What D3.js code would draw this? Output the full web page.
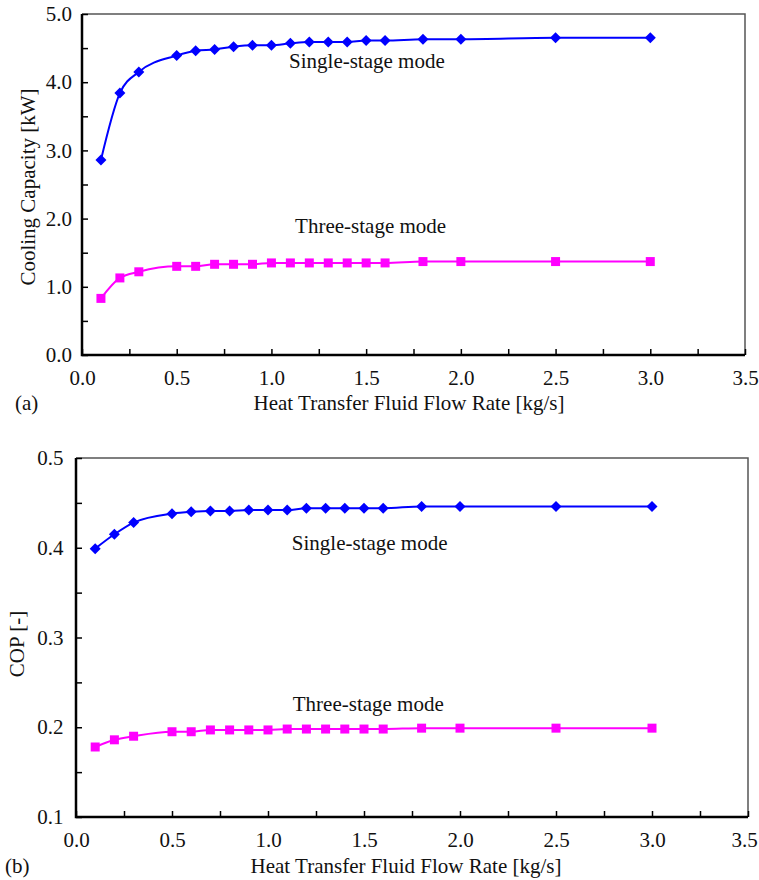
<!DOCTYPE html>
<html>
<head>
<meta charset="utf-8">
<script src="https://cdn.jsdelivr.net/npm/d3@7"></script>
<style>
  body { margin: 0; background: #fff; }
  svg text { font-family: "Liberation Serif", "Times New Roman", serif; fill: #111; }
</style>
</head>
<body>
<div id="viz"></div>
<script>
// flow rate of the heat transfer fluid [kg/s]
var flowRate = [0.1, 0.2, 0.3, 0.5, 0.6, 0.7, 0.8, 0.9, 1.0, 1.1, 1.2, 1.3, 1.4, 1.5, 1.6, 1.8, 2.0, 2.5, 3.0];

// cooling capacity [kW]
var capSingle = [2.86, 3.84, 4.15, 4.39, 4.46, 4.48, 4.52, 4.54, 4.54, 4.57, 4.59, 4.59, 4.59, 4.61, 4.61, 4.63, 4.63, 4.65, 4.65];
var capThree = [0.83, 1.13, 1.22, 1.30, 1.30, 1.33, 1.33, 1.33, 1.35, 1.35, 1.35, 1.35, 1.35, 1.35, 1.35, 1.37, 1.37, 1.37, 1.37];

// COP [-]
var copSingle = [0.399, 0.415, 0.428, 0.438, 0.440, 0.441, 0.441, 0.442, 0.442, 0.442, 0.444, 0.444, 0.444, 0.444, 0.444, 0.446, 0.446, 0.446, 0.446];
var copThree = [0.178, 0.186, 0.190, 0.195, 0.195, 0.197, 0.197, 0.197, 0.197, 0.198, 0.198, 0.198, 0.198, 0.198, 0.198, 0.199, 0.199, 0.199, 0.199];

var xTicks = [0, 0.25, 0.5, 0.75, 1, 1.25, 1.5, 1.75, 2, 2.25, 2.5, 2.75, 3, 3.25, 3.5];
var capTicks = [0, 0.5, 1, 1.5, 2, 2.5, 3, 3.5, 4, 4.5, 5];
var copTicks = [0.1, 0.15, 0.2, 0.25, 0.3, 0.35, 0.4, 0.45, 0.5];

var xTitle = "Heat Transfer Fluid Flow Rate [kg/s]";

var w = 759, h = 880;
var fontSize = 21;
var blue = "#0000ff", magenta = "#ff00ff";

var svg = d3.select("div#viz").append("svg")
  .attr("width", w)
  .attr("height", h);

function isMajor(v, step) {
  return Math.abs(v / step - Math.round(v / step)) < 1e-6;
}

var drawPanel = function(p) {
  var x = d3.scaleLinear().domain([0, 3.5]).range([p.left, p.right]);
  var y = d3.scaleLinear().domain(p.yDomain).range([p.bottom, p.top]);
  var g = svg.append("g");

  // top and right frame (thin grey)
  g.append("path")
    .attr("d", "M" + x(0) + "," + y(p.yDomain[1]) + "H" + x(3.5) + "V" + y(p.yDomain[0]))
    .attr("fill", "none")
    .attr("stroke", "#555")
    .attr("stroke-width", 1.5);

  var xAxis = d3.axisBottom(x)
    .tickValues(xTicks)
    .tickSizeInner(-6)
    .tickSizeOuter(0)
    .tickPadding(15)
    .tickFormat(function(d) { return isMajor(d, 0.5) ? d3.format(".1f")(d) : ""; });

  var gx = g.append("g")
    .attr("transform", "translate(0," + y(p.yDomain[0]) + ")")
    .call(xAxis);

  var yAxis = d3.axisLeft(y)
    .tickValues(p.yTicks)
    .tickSizeInner(-6)
    .tickSizeOuter(0)
    .tickPadding(p.yPad)
    .tickFormat(function(d) { return isMajor(d, p.yMajor) ? d3.format(".1f")(d) : ""; });

  var gy = g.append("g")
    .attr("transform", "translate(" + x(0) + ",0)")
    .call(yAxis);

  [gx, gy].forEach(function(a) {
    a.select(".domain").remove();
    a.selectAll(".tick line").attr("stroke", "#000").attr("stroke-width", 1.5);
    a.selectAll(".tick text")
      .style("font-family", "'Liberation Serif', 'Times New Roman', serif")
      .style("font-size", fontSize + "px")
      .attr("fill", "#111");
  });

  // keep the last x label inside the page
  gx.selectAll(".tick text")
    .filter(function(d) { return d === 3.5; })
    .attr("dx", p.lastDx);

  // left and bottom axis lines (thick black)
  g.append("path")
    .attr("d", "M" + x(0) + "," + y(p.yDomain[1]) + "V" + y(p.yDomain[0]) + "H" + x(3.5))
    .attr("fill", "none")
    .attr("stroke", "#000")
    .attr("stroke-width", 2.5);

  var line = d3.line()
    .curve(d3.curveMonotoneX)
    .x(function(d) { return x(d[0]); })
    .y(function(d) { return y(d[1]); });

  p.series.forEach(function(s) {
    var pts = flowRate.map(function(f, i) { return [f, s.values[i]]; });
    g.append("path")
      .datum(pts)
      .attr("d", line)
      .attr("fill", "none")
      .attr("stroke", s.color)
      .attr("stroke-width", 2);

    g.selectAll(null)
      .data(pts)
      .enter()
      .append("path")
      .attr("transform", function(d) { return "translate(" + x(d[0]) + "," + y(d[1]) + ")"; })
      .attr("d", s.marker)
      .attr("fill", s.color);

    g.append("text")
      .attr("x", x(s.label[0]))
      .attr("y", y(s.label[1]))
      .style("font-size", fontSize + "px")
      .text(s.name);
  });

  // axis titles
  g.append("text")
    .attr("x", p.xTitleX)
    .attr("y", p.xTitleY)
    .attr("text-anchor", "middle")
    .style("font-size", fontSize + "px")
    .text(xTitle);

  g.append("text")
    .attr("x", p.tagX)
    .attr("y", p.xTitleY)
    .style("font-size", fontSize + "px")
    .text(p.tag);

  g.append("text")
    .attr("transform", "translate(" + p.yTitleX + "," + p.yTitleY + ")rotate(-90)")
    .attr("text-anchor", "middle")
    .style("font-size", fontSize + "px")
    .text(p.yTitle);
};

var diamond = "M0,-5.5L5.5,0L0,5.5L-5.5,0Z";
var square = "M-4.5,-4.5H4.5V4.5H-4.5Z";

drawPanel({
  left: 82, right: 745, top: 14, bottom: 355,
  yDomain: [0, 5], yTicks: capTicks, yMajor: 1, yPad: 10,
  yTitle: "Cooling Capacity [kW]", yTitleX: 35, yTitleY: 187,
  xTitleX: 409, xTitleY: 410, tag: "(a)", tagX: 15, lastDx: 0,
  series: [
    { name: "Single-stage mode", values: capSingle, color: blue, marker: diamond, label: [1.093, 4.21] },
    { name: "Three-stage mode", values: capThree, color: magenta, marker: square, label: [1.125, 1.79] }
  ]
});

drawPanel({
  left: 76, right: 748, top: 458, bottom: 817,
  yDomain: [0.1, 0.5], yTicks: copTicks, yMajor: 0.1, yPad: 12.5,
  yTitle: "COP [-]", yTitleX: 24, yTitleY: 644,
  xTitleX: 406, xTitleY: 873, tag: "(b)", tagX: 5, lastDx: -4,
  series: [
    { name: "Single-stage mode", values: copSingle, color: blue, marker: diamond, label: [1.124, 0.3975] },
    { name: "Three-stage mode", values: copThree, color: magenta, marker: square, label: [1.129, 0.2184] }
  ]
});
</script>
</body>
</html>
